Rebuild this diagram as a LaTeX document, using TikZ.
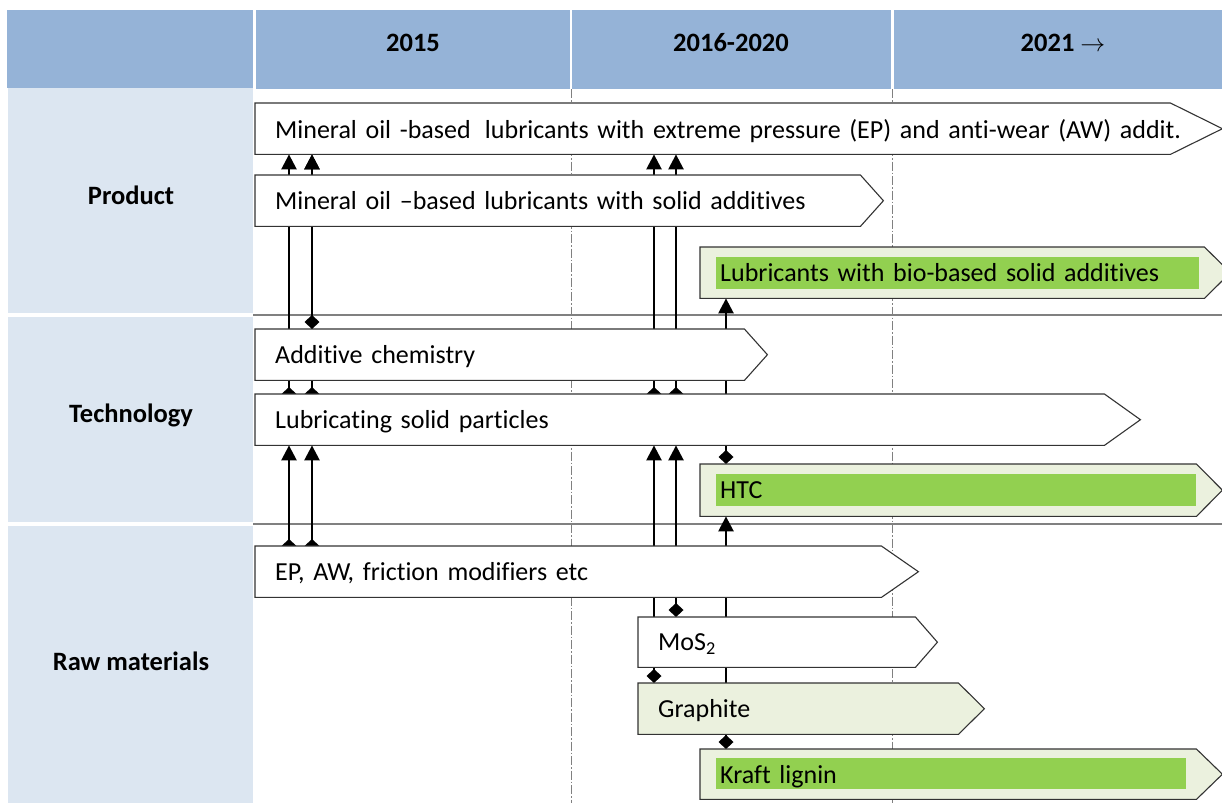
\documentclass[tikz,border=0pt]{standalone}
\usepackage{fontspec}
\setmainfont{Carlito}[Ligatures={NoCommon}]
\usetikzlibrary{arrows.meta,calc}
\pgfdeclarelayer{back}
\pgfdeclarelayer{conn}
\pgfdeclarelayer{boxes}
\pgfsetlayers{back,conn,boxes,main}
\definecolor{hdr}{HTML}{95B3D7}
\definecolor{lbl}{HTML}{DCE6F1}
\definecolor{lgreen}{HTML}{EBF1DE}
\definecolor{dgreen}{HTML}{92D050}
\definecolor{sepgray}{HTML}{808080}
\newcommand\pentagon[3]{\filldraw[boxline, fill=#3] (#1.north west) -- (#1.north east) -- ($(#1.east)+(#2,0)$) -- (#1.south east) -- (#1.south west) -- cycle;}
\begin{document}
\begin{tikzpicture}[x=1pt,y=-1pt,
  txt/.style={font=\fontsize{26}{30}\selectfont},
  tbox/.style={txt, anchor=north west, inner xsep=20pt, inner ysep=0pt, align=left,
    execute at begin node={\vspace*{-6pt}}},
  boxline/.style={draw=black!80, line width=1.1pt, line join=miter},
  dconn/.style={line width=2.5pt, {Diamond[width=15pt,length=14pt]}-{Triangle[width=15pt,length=15pt]}},
  hdrtext/.style={font=\fontsize{26.5}{30}\selectfont\bfseries},
  rowlabel/.style={font=\fontsize{26.5}{30}\selectfont\bfseries},
  sepline/.style={draw=sepgray, line width=2pt},
  timeline/.style={draw=sepgray, line width=1pt, dash pattern=on 9pt off 2pt on 1.5pt off 2pt}]
\useasboundingbox (0,0) rectangle (1222,803);

% ---------- header and row labels ----------
\node[hdrtext] (h2015) at (413,43) {2015};
\node[hdrtext] (h2016) at (731,43) {2016-2020};
\node[hdrtext] (h2021) at (1063,43) {2021 $\rightarrow$};
\node[rowlabel] (lprod) at (131,195) {Product};
\node[rowlabel] (ltech) at (131,415) {Technology};
\node[rowlabel] (lraw) at (131,661) {Raw materials};

% ---------- boxes ----------
\node[tbox, text width=875pt, minimum height=51pt] (p1) at (255,103)
  {\makebox[875pt][l]{Mineral oil -based\hspace{0.55em}lubricants with extreme pressure (EP) and anti-wear (AW) addit.}};
\node[tbox, text width=565pt, minimum height=51pt] (p2) at (255,175)
  {Mineral oil --based lubricants with solid additives};
\node[tbox, text width=464pt, minimum height=51pt] (bio) at (700,247)
  {Lubricants with bio-based solid additives};
\node[tbox, text width=449pt, minimum height=51pt] (add) at (255,329)
  {Additive chemistry};
\node[tbox, text width=809pt, minimum height=51pt] (lub) at (255,394)
  {Lubricating solid particles};
\node[tbox, text width=456pt, minimum height=52pt] (htc) at (700,464)
  {HTC};
\node[tbox, text width=586pt, minimum height=51pt] (ep) at (255,546)
  {EP, AW, friction modifiers etc};
\node[tbox, text width=237pt, minimum height=50pt] (mos) at (638,617)
  {MoS\textsubscript{2}};
\node[tbox, text width=280pt, minimum height=51pt] (gra) at (638,683)
  {Graphite};
\node[tbox, text width=456pt, minimum height=50pt] (kra) at (700,749)
  {Kraft lignin};

\coordinate (xa) at (289,0);
\coordinate (xb) at (312,0);
\coordinate (xc) at (654,0);
\coordinate (xd) at (676,0);
\coordinate (xe) at (726,0);

\begin{pgfonlayer}{boxes}
  \pentagon{p1}{52}{white}
  \pentagon{p2}{23}{white}
  \pentagon{bio}{26}{lgreen}
  \fill[dgreen] ($(bio.north west)+(16,10)$) rectangle ($(bio.south east)+(-5,-9)$);
  \pentagon{add}{23}{white}
  \pentagon{lub}{36}{white}
  \pentagon{htc}{26}{lgreen}
  \fill[dgreen] ($(htc.north west)+(16,10)$) rectangle ($(htc.south east)+(0,-10)$);
  \pentagon{ep}{37}{white}
  \pentagon{mos}{22}{white}
  \pentagon{gra}{26}{lgreen}
  \pentagon{kra}{26}{lgreen}
  \fill[dgreen] ($(kra.north west)+(16,9)$) rectangle ($(kra.south east)+(-10,-10)$);
\end{pgfonlayer}

\begin{pgfonlayer}{conn}
  \draw[dconn] ($(xa|-lub.north)+(0,7)$) -- (xa|-p1.south);
  \draw[dconn] ($(xb|-lub.north)+(0,7)$) -- (xb|-p1.south);
  \draw[dconn] (xb|-add.north) -- (xb|-p1.south);
  \draw[dconn] ($(xc|-lub.north)+(0,7)$) -- (xc|-p1.south);
  \draw[dconn] ($(xd|-lub.north)+(0,7)$) -- (xd|-p1.south);
  \draw[dconn] ($(xa|-ep.north)+(0,7)$) -- (xa|-lub.south);
  \draw[dconn] ($(xb|-ep.north)+(0,7)$) -- (xb|-lub.south);
  \draw[dconn] (xd|-mos.north) -- (xd|-lub.south);
  \draw[dconn] (xc|-gra.north) -- (xc|-lub.south);
  \draw[dconn] (xe|-htc.north) -- (xe|-bio.south);
  \draw[dconn] (xe|-kra.north) -- (xe|-htc.south);
\end{pgfonlayer}

\begin{pgfonlayer}{back}
  \fill[white] (0,0) rectangle (1222,803);
  \fill[hdr] (7,10) rectangle (253,88);
  \fill[hdr] (256,10) rectangle (570,89);
  \fill[hdr] (572,10) rectangle (891,89);
  \fill[hdr] (894,10) rectangle (1222,89);
  \fill[lbl] (8,88) rectangle (253,313);
  \fill[lbl] (8,317) rectangle (253,522);
  \fill[lbl] (8,526) rectangle (253,803);
  \draw[sepline] (253,315) -- (1222,315);
  \draw[sepline] (253,524) -- (1222,524);
  \draw[timeline] (571,89) -- (571,803);
  \draw[timeline] (892,89) -- (892,803);
\end{pgfonlayer}
\end{tikzpicture}
\end{document}
